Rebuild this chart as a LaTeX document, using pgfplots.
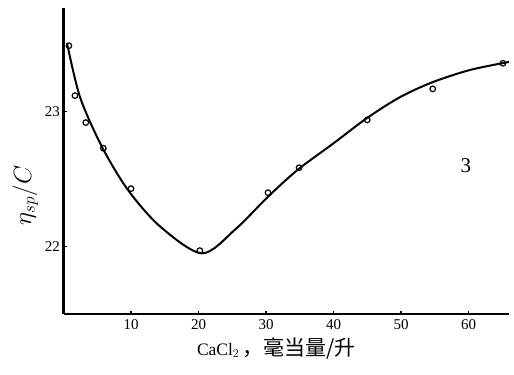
\documentclass[border=0pt]{standalone}
\usepackage{fontspec}
\setmainfont{Liberation Serif}
\newfontfamily\cjk{Noto Sans CJK SC}
\usepackage{pgfplots}
\pgfplotsset{compat=1.18}
\begin{document}
\begin{tikzpicture}
\begin{axis}[
  name=ax,
  scale only axis,
  width=445.5pt, height=306pt,
  xmin=0, xmax=66, ymin=21.5, ymax=23.77,
  axis x line=bottom, axis y line=left,
  axis line style={line width=2.2pt, -},
  xtick={10,20,30,40,50,60},
  ytick={22,23},
  tick align=inside,
  major tick length=3pt,
  tick style={line width=1.2pt, black},
  /pgf/number format/assume math mode=true,
  tick label style={font=\fontsize{15}{17}\selectfont},
  xticklabel style={yshift=-2pt},
  ylabel={$\eta_{sp}/C$},
  ylabel style={font=\fontsize{24}{26}\selectfont, at={(ticklabel cs:0.42)}, xshift=-10pt},
  xlabel={\fontsize{17.5}{19}\selectfont CaCl$_2$\,{\cjk\fontsize{21}{23}\selectfont ，毫当量/升}},
  xlabel style={yshift=-1pt, xshift=-10pt},
  clip=false,
]
\addplot[smooth, line width=2pt] coordinates {
  (0.52,23.51) (2.44,23.11) (5.7,22.74) (9.55,22.42) (14.3,22.15)
  (20.5,21.95) (25.5,22.13) (30.3,22.37) (34.7,22.57) (40.1,22.77)
  (45,22.955) (49.9,23.11) (54.7,23.22) (60.2,23.31) (66,23.37)
};
\addplot[only marks, mark=o, mark size=2.8pt, mark options={line width=1.2pt, fill=white}] coordinates {
  (0.8,23.49) (1.7,23.12) (3.3,22.92) (5.9,22.73) (10,22.43)
  (20.2,21.97) (30.3,22.40) (34.9,22.585) (45,22.94) (54.7,23.17) (65.1,23.36)
};
\node[font=\fontsize{21}{23}\selectfont] at (axis cs:59.6,22.6) {3};
\end{axis}
\path[use as bounding box] ([xshift=-63.5pt,yshift=-60pt]ax.south west) rectangle ([xshift=5pt,yshift=8pt]ax.north east);
\end{tikzpicture}
\end{document}
